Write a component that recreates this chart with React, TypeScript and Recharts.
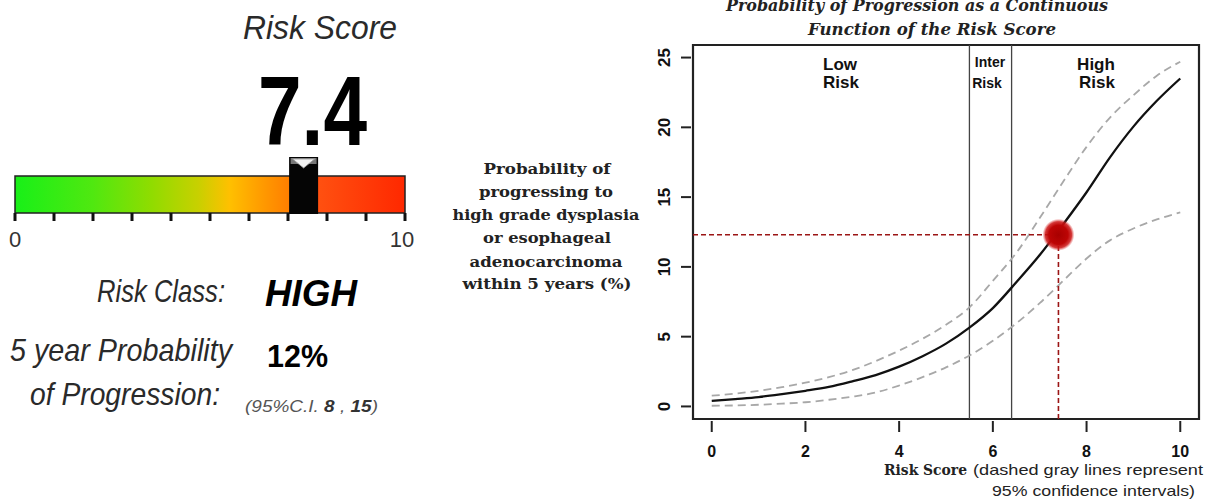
import React from "react";
import {
  LineChart,
  Line,
  XAxis,
  YAxis,
  ReferenceLine,
  ReferenceArea,
  ReferenceDot,
  ScatterChart,
  Scatter,
} from "recharts";

// curve, every half point of the risk score
const riskScores = [0, 0.5, 1, 1.5, 2, 2.5, 3, 3.5, 4, 4.5, 5, 5.5, 6, 6.5, 7, 7.5, 8, 8.5, 9, 9.5, 10];
const meanProb = [0.4, 0.53, 0.67, 0.88, 1.12, 1.4, 1.8, 2.25, 2.85, 3.6, 4.5, 5.65, 7.05, 8.9, 10.85, 13.05, 15.35, 17.85, 20.05, 21.9, 23.5];
const upperCI = [0.77, 0.92, 1.12, 1.38, 1.7, 2.1, 2.6, 3.25, 4.0, 4.85, 5.85, 7.1, 9.0, 11.0, 13.5, 16.1, 18.6, 20.7, 22.3, 23.7, 24.7];
const lowerCI = [0.05, 0.07, 0.12, 0.2, 0.3, 0.48, 0.7, 1.0, 1.5, 2.1, 2.8, 3.65, 4.7, 5.95, 7.4, 9.0, 10.6, 11.9, 12.75, 13.4, 13.9];

const xTicks = [0, 2, 4, 6, 8, 10];
const yTicks = [0, 5, 10, 15, 20, 25];
const gaugeTicks = [0, 1, 2, 3, 4, 5, 6, 7, 8, 9, 10];
const zoneCuts = [5.5, 6.4];

const riskScore = 7.4;
const riskProb = 12.3;

const curveData = riskScores.map((s, i) => ({
  score: s,
  mean: meanProb[i],
  upper: upperCI[i],
  lower: lowerCI[i],
}));

const markerData = [{ score: riskScore, level: 1 }];

const SANS = "'Liberation Sans', Arial, sans-serif";
const SERIF = "'DejaVu Serif', 'Liberation Serif', serif";

const XTick = ({ x, y, payload }: any) => (
  <g>
    <line x1={x} y1={y + 2} x2={x} y2={y + 13} stroke="#222" strokeWidth={2} />
    <text x={x} y={y + 38} textAnchor="middle" fontFamily={SANS} fontWeight="bold" fontSize={16} fill="#111">
      {payload.value}
    </text>
  </g>
);

const YTick = ({ x, y, payload }: any) => (
  <g>
    <line x1={x - 2} y1={y} x2={x - 12} y2={y} stroke="#222" strokeWidth={2} />
    <text
      x={x - 23}
      y={y}
      transform={`rotate(-90 ${x - 23} ${y})`}
      textAnchor="middle"
      fontFamily={SANS}
      fontWeight="bold"
      fontSize={17}
      fill="#111"
    >
      {payload.value}
    </text>
  </g>
);

const GaugeTick = ({ x, y, payload }: any) => (
  <g>
    <line x1={x} y1={y} x2={x} y2={y + 8} stroke="#111" strokeWidth={3} />
    {(payload.value === 0 || payload.value === 10) && (
      <text x={x - (payload.value === 10 ? 3 : 0)} y={y + 34} textAnchor="middle" fontFamily={SANS} fontSize={22} fill="#333">
        {payload.value}
      </text>
    )}
  </g>
);

const GaugeMarker = ({ cx, cy }: any) => (
  <g>
    <rect x={cx - 14.5} y={cy - 19} width={29} height={57} fill="#050505" />
    <rect x={cx - 13} y={cy - 18} width={26} height={6} fill="#777" />
    <polygon points={`${cx - 11},${cy - 17} ${cx + 11},${cy - 17} ${cx},${cy - 8}`} fill="#f4f4f4" stroke="#999" strokeWidth={0.8} />
  </g>
);

const RedDot = ({ cx, cy }: any) => <circle cx={cx} cy={cy} r={16} fill="url(#dotGrad)" />;

export default function App() {
  return (
    <div style={{ position: "absolute", left: 0, top: 0, width: 1215, height: 502, background: "#fff" }}>
      <div style={{ position: "absolute", left: 0, top: 0 }}>
        <LineChart width={1215} height={502} data={curveData} margin={{ top: 45, right: 16, bottom: 53, left: 653 }}>
          <defs>
            <radialGradient id="dotGrad">
              <stop offset="0%" stopColor="#a80000" />
              <stop offset="60%" stopColor="#bd0505" />
              <stop offset="82%" stopColor="#cc1515" stopOpacity={0.85} />
              <stop offset="100%" stopColor="#e04040" stopOpacity={0} />
            </radialGradient>
          </defs>
          <XAxis
            dataKey="score"
            type="number"
            domain={[-0.4, 10.4]}
            ticks={xTicks}
            height={30}
            axisLine={false}
            tickLine={false}
            tickSize={0}
            tickMargin={0}
            tick={<XTick />}
          />
          <YAxis
            type="number"
            domain={[-0.9, 25.9]}
            ticks={yTicks}
            width={40}
            axisLine={false}
            tickLine={false}
            tickSize={0}
            tickMargin={0}
            tick={<YTick />}
          />
          {zoneCuts.map((c) => (
            <ReferenceLine key={c} x={c} stroke="#444" strokeWidth={1.3} />
          ))}
          <Line dataKey="upper" type="monotone" stroke="#a8a8a8" strokeWidth={1.8} strokeDasharray="8 5" dot={false} isAnimationActive={false} />
          <Line dataKey="lower" type="monotone" stroke="#a8a8a8" strokeWidth={1.8} strokeDasharray="8 5" dot={false} isAnimationActive={false} />
          <Line dataKey="mean" type="monotone" stroke="#111" strokeWidth={2.3} dot={false} isAnimationActive={false} />
          <ReferenceLine
            segment={[{ x: -0.4, y: riskProb }, { x: riskScore, y: riskProb }]}
            stroke="#9b1515"
            strokeWidth={1.6}
            strokeDasharray="5 3"
          />
          <ReferenceLine
            segment={[{ x: riskScore, y: -0.9 }, { x: riskScore, y: riskProb }]}
            stroke="#9b1515"
            strokeWidth={1.6}
            strokeDasharray="5 3"
          />
          <ReferenceDot x={riskScore} y={riskProb} r={16} shape={<RedDot />} />
          <ReferenceArea x1={-0.4} x2={10.4} y1={-0.9} y2={25.9} fill="none" stroke="#222" strokeWidth={2.2} />
        </LineChart>
      </div>

      <div style={{ position: "absolute", left: 0, top: 0 }}>
        <ScatterChart width={420} height={260} margin={{ top: 176, right: 15, bottom: 17, left: 15 }}>
          <defs>
            <linearGradient id="gaugeGrad" x1="0" y1="0" x2="1" y2="0">
              <stop offset="0%" stopColor="#18f018" />
              <stop offset="20%" stopColor="#50e810" />
              <stop offset="35%" stopColor="#90dc00" />
              <stop offset="47%" stopColor="#c8d000" />
              <stop offset="55%" stopColor="#ffc000" />
              <stop offset="64%" stopColor="#ff9800" />
              <stop offset="70%" stopColor="#ff8000" />
              <stop offset="78%" stopColor="#ff5010" />
              <stop offset="100%" stopColor="#ff2800" />
            </linearGradient>
          </defs>
          <XAxis
            dataKey="score"
            type="number"
            domain={[0, 10]}
            ticks={gaugeTicks}
            height={30}
            axisLine={false}
            tickLine={false}
            tickSize={0}
            tickMargin={0}
            tick={<GaugeTick />}
          />
          <YAxis dataKey="level" type="number" domain={[0, 1]} hide width={0} />
          <ReferenceArea x1={0} x2={10} y1={0} y2={1} fill="url(#gaugeGrad)" fillOpacity={1} stroke="#222" strokeWidth={1.5} />
          <Scatter data={markerData} dataKey="level" shape={<GaugeMarker />} isAnimationActive={false} />
        </ScatterChart>
      </div>

      <svg width={1215} height={502} style={{ position: "absolute", left: 0, top: 0, pointerEvents: "none" }}>
        {/* left panel */}
        <text x={243} y={39} fontFamily={SANS} fontStyle="italic" fontSize={34} fill="#2a2a2a" textLength={154} lengthAdjust="spacingAndGlyphs">
          Risk Score
        </text>
        <text x={258} y={145} fontFamily={SANS} fontWeight="bold" fontSize={98} fill="#000" textLength={109} lengthAdjust="spacingAndGlyphs">
          7.4
        </text>
        <text x={97} y={302} fontFamily={SANS} fontStyle="italic" fontSize={32} fill="#2a2a2a" textLength={128} lengthAdjust="spacingAndGlyphs">
          Risk Class:
        </text>
        <text x={265} y={306} fontFamily={SANS} fontStyle="italic" fontWeight="bold" fontSize={36} fill="#000" textLength={92} lengthAdjust="spacingAndGlyphs">
          HIGH
        </text>
        <text x={10} y={361} fontFamily={SANS} fontStyle="italic" fontSize={32} fill="#2a2a2a" textLength={222} lengthAdjust="spacingAndGlyphs">
          5 year Probability
        </text>
        <text x={267} y={367} fontFamily={SANS} fontWeight="bold" fontSize={31} fill="#000" textLength={61} lengthAdjust="spacingAndGlyphs">
          12%
        </text>
        <text x={30} y={405} fontFamily={SANS} fontStyle="italic" fontSize={32} fill="#2a2a2a" textLength={190} lengthAdjust="spacingAndGlyphs">
          of Progression:
        </text>
        <text x={245} y={412} fontFamily={SANS} fontStyle="italic" fontSize={17} fill="#555" textLength={133} lengthAdjust="spacingAndGlyphs">
          (95%C.I. <tspan fontWeight="bold" fill="#333">8</tspan>
          {"  , "}
          <tspan fontWeight="bold" fill="#333">15</tspan>)
        </text>

        {/* right panel titles */}
        <text x={917} y={11} textAnchor="middle" fontFamily={SERIF} fontStyle="italic" fontWeight="bold" fontSize={17} fill="#222" textLength={382} lengthAdjust="spacingAndGlyphs">
          Probability of Progression as a Continuous
        </text>
        <text x={932} y={35} textAnchor="middle" fontFamily={SERIF} fontStyle="italic" fontWeight="bold" fontSize={17} fill="#222" textLength={248} lengthAdjust="spacingAndGlyphs">
          Function of the Risk Score
        </text>

        {/* region labels */}
        <g fontFamily={SANS} fontWeight="bold" fill="#111" textAnchor="middle">
          <text x={840} y={70} fontSize={17}>Low</text>
          <text x={841} y={88} fontSize={17}>Risk</text>
          <text x={990} y={67} fontSize={14}>Inter</text>
          <text x={987} y={88} fontSize={14}>Risk</text>
          <text x={1096} y={70} fontSize={17}>High</text>
          <text x={1097} y={88} fontSize={17}>Risk</text>
        </g>

        {/* y axis label */}
        <g fontFamily={SERIF} fontWeight="bold" fontSize={15} fill="#222" textAnchor="middle">
          <text x={547} y={174} textLength={127} lengthAdjust="spacingAndGlyphs">Probability of</text>
          <text x={546} y={197} textLength={134} lengthAdjust="spacingAndGlyphs">progressing to</text>
          <text x={546} y={220} textLength={187} lengthAdjust="spacingAndGlyphs">high grade dysplasia</text>
          <text x={547} y={243} textLength={128} lengthAdjust="spacingAndGlyphs">or esophageal</text>
          <text x={546} y={267} textLength={153} lengthAdjust="spacingAndGlyphs">adenocarcinoma</text>
          <text x={547} y={289} textLength={169} lengthAdjust="spacingAndGlyphs">within 5 years (%)</text>
        </g>

        {/* x axis label */}
        <text x={884} y={475} fontFamily={SERIF} fontWeight="bold" fontSize={14} fill="#222" textLength={83} lengthAdjust="spacingAndGlyphs">
          Risk Score
        </text>
        <text x={973} y={475} fontFamily={SANS} fontSize={15} fill="#222" textLength={230} lengthAdjust="spacingAndGlyphs">
          (dashed gray lines represent
        </text>
        <text x={992} y={496} fontFamily={SANS} fontSize={15} fill="#222" textLength={203} lengthAdjust="spacingAndGlyphs">
          95% confidence intervals)
        </text>
      </svg>
    </div>
  );
}
